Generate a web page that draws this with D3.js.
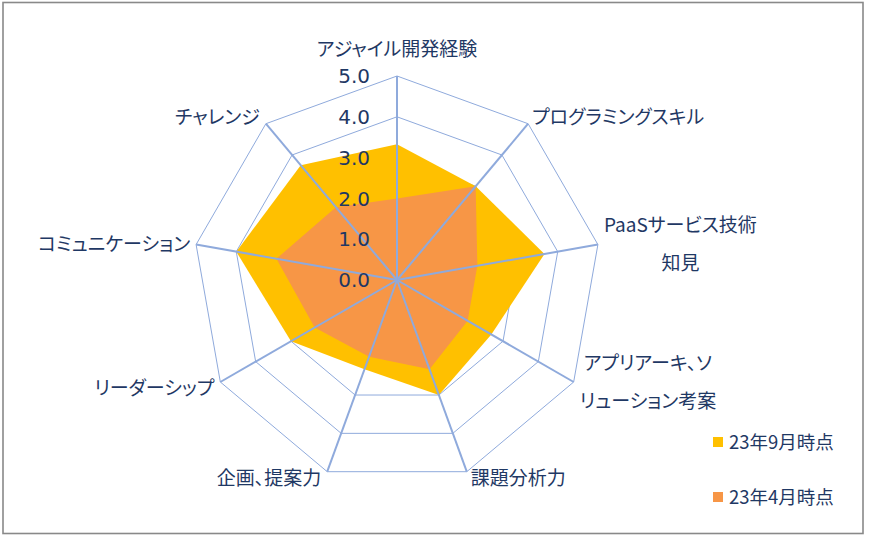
<!DOCTYPE html>
<html>
<head>
<meta charset="utf-8">
<script src="https://cdn.jsdelivr.net/npm/d3@7"></script>
<style>
  body { margin: 0; background: #fff; }
  text { font-family: "Noto Sans CJK JP", "DejaVu Sans", sans-serif; fill: #1F3864; font-feature-settings: "palt"; }
</style>
</head>
<body>
<div id="chart"></div>
<script>
// category labels (lines as wrapped in the original)
var categories = [
  ["アジャイル開発経験"],
  ["プログラミングスキル"],
  ["PaaSサービス技術", "知見"],
  ["アプリアーキ、ソ", "リューション考案"],
  ["課題分析力"],
  ["企画、提案力"],
  ["リーダーシップ"],
  ["コミュニケーション"],
  ["チャレンジ"]
];

var seriesNames = ["23年9月時点", "23年4月時点"];
var sep = [3.33, 3.0, 3.67, 2.67, 3.0, 2.33, 3.0, 4.0, 3.67];
var apr = [2.0, 3.0, 2.0, 2.0, 2.33, 2.0, 2.33, 3.0, 2.33];
var ticks = [0, 1, 2, 3, 4, 5];

var colors = ["#FFC000", "#F79646"];

var width = 870, height = 538;
var cx = 397, cy = 280, R = 204;
var labelSize = "19px";

var svg = d3.select("#chart").append("svg")
  .attr("width", width)
  .attr("height", height);

// chart frame
svg.append("rect")
  .attr("x", 3).attr("y", 2.5)
  .attr("width", 860).attr("height", 531)
  .attr("fill", "#fff")
  .attr("stroke", "#898989")
  .attr("stroke-width", 1.6);

var g = svg.append("g").attr("transform", "translate(" + cx + "," + cy + ")");

var r = d3.scaleLinear().domain([0, 5]).range([0, R]);
var angle = d3.scaleLinear().domain([0, categories.length]).range([0, 2 * Math.PI]);

function pt(i, v) {
  var a = angle(i);
  return [r(v) * Math.sin(a), -r(v) * Math.cos(a)];
}

var idx = d3.range(categories.length);

// ring gridlines (under the fills)
g.selectAll(".ring")
  .data(ticks.slice(1))
  .enter().append("polygon")
  .attr("points", function (t) { return idx.map(function (i) { return pt(i, t).join(","); }).join(" "); })
  .attr("fill", "none")
  .attr("stroke", "#8FAADC")
  .attr("stroke-width", 1);

// filled areas, September first so April sits on top
var area = d3.lineRadial()
  .angle(function (d, i) { return angle(i); })
  .radius(function (d) { return r(d); })
  .curve(d3.curveLinearClosed);

g.selectAll(".area")
  .data([sep, apr])
  .enter().append("path")
  .attr("d", area)
  .attr("fill", function (d, i) { return colors[i]; });

// spokes
g.selectAll(".spoke")
  .data(idx)
  .enter().append("line")
  .attr("x1", 0).attr("y1", 0)
  .attr("x2", function (i) { return pt(i, 5)[0]; })
  .attr("y2", function (i) { return pt(i, 5)[1]; })
  .attr("stroke", "#8FAADC")
  .attr("stroke-width", 2);

// value tick labels along the top spoke
g.selectAll(".tick")
  .data(ticks)
  .enter().append("text")
  .attr("x", -27)
  .attr("y", function (t) { return -r(t); })
  .attr("dy", "0.36em")
  .attr("text-anchor", "end")
  .style("font-family", "'DejaVu Sans', sans-serif")
  .style("font-size", "20px")
  .text(function (t) { return d3.format(".1f")(t); });

// category labels
var lineH = 38;
idx.forEach(function (i) {
  var p = pt(i, 5), a = angle(i);
  var s = Math.sin(a), c = Math.cos(a);
  var lines = categories[i];
  var lab = g.append("text").style("font-size", labelSize);

  if (lines.length > 1) {
    // wrapped labels: centred block beside the spoke end
    var tmp = g.append("text").style("font-size", labelSize);
    var w = d3.max(lines, function (l) { tmp.text(l); return tmp.node().getComputedTextLength(); });
    tmp.remove();
    var x0 = p[0] + 6 + w / 2;
    lines.forEach(function (l, k) {
      lab.append("tspan")
        .attr("x", x0)
        .attr("y", p[1] + (k - (lines.length - 1) / 2) * lineH)
        .attr("dy", "0.36em")
        .attr("text-anchor", "middle")
        .text(l);
    });
    return;
  }

  var anchor = s > 0.1 ? "start" : (s < -0.1 ? "end" : "middle");
  var dx = s > 0.1 ? 4 : (s < -0.1 ? -6 : 0);
  var dy = 0;
  if (Math.abs(s) <= 0.1) dy = c > 0 ? -27 : 27;
  else if (c > 0.5) dy = -7;
  else if (c < -0.5) dy = 6;
  lab.attr("x", p[0] + dx)
    .attr("y", p[1] + dy)
    .attr("dy", "0.36em")
    .attr("text-anchor", anchor)
    .text(lines[0]);
});

// legend
var legend = svg.selectAll(".legend")
  .data(seriesNames)
  .enter().append("g")
  .attr("transform", function (d, i) { return "translate(713," + (442 + i * 55) + ")"; });

legend.append("rect")
  .attr("x", 0).attr("y", -5)
  .attr("width", 10).attr("height", 10)
  .attr("fill", function (d, i) { return colors[i]; });

legend.append("text")
  .attr("x", 16)
  .attr("y", 0)
  .attr("dy", "0.36em")
  .style("font-size", "18.5px")
  .text(function (d) { return d; });
</script>
</body>
</html>
